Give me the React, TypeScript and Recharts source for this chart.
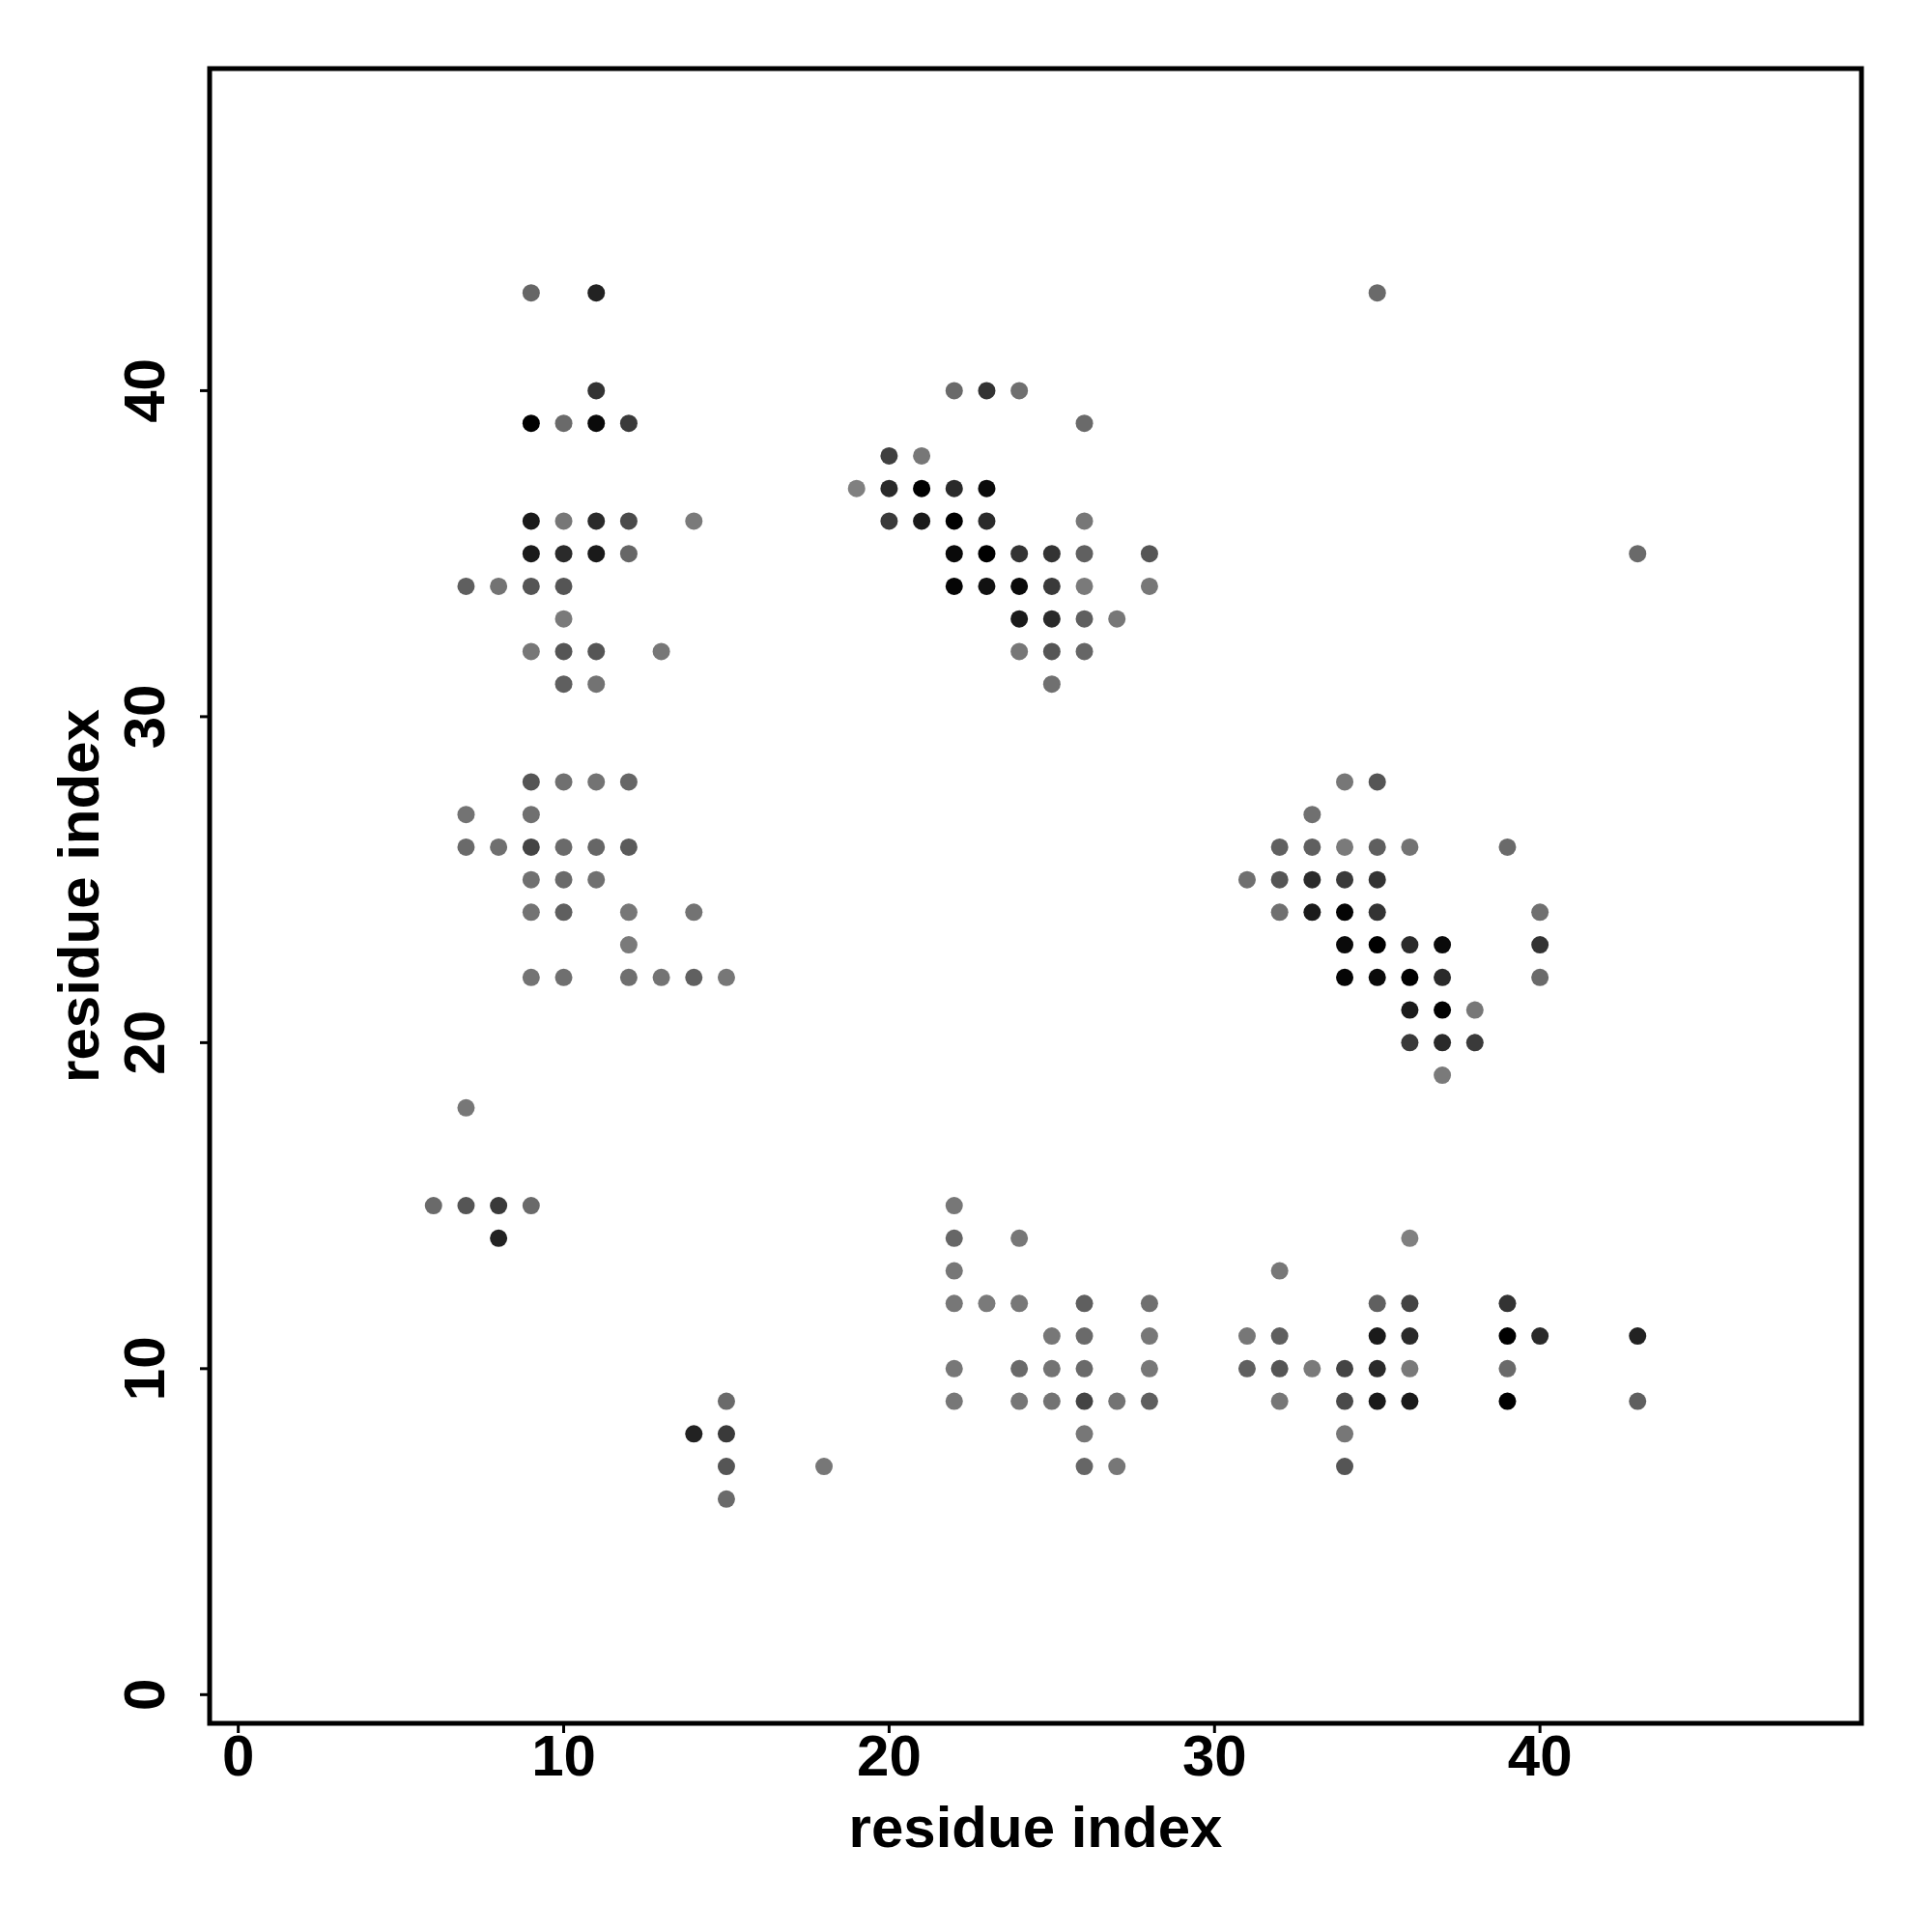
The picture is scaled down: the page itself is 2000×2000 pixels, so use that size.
import React from "react";
import {
  ScatterChart,
  Scatter,
  XAxis,
  YAxis,
  ReferenceArea,
} from "recharts";

// each contact: [residue i, residue j, grey level 0-255]
const topLeft = [
  [9, 43, 102], [11, 43, 34],
  [11, 40, 51],
  [9, 39, 0], [10, 39, 106], [11, 39, 10], [12, 39, 58],
  [9, 36, 26], [10, 36, 119], [11, 36, 42], [12, 36, 74], [14, 36, 122],
  [9, 35, 26], [10, 35, 42], [11, 35, 26], [12, 35, 102],
  [7, 34, 95], [8, 34, 115], [9, 34, 85], [10, 34, 85],
  [10, 33, 122],
  [9, 32, 119], [10, 32, 85], [11, 32, 85], [13, 32, 119],
  [10, 31, 95], [11, 31, 115],
];

const topMiddle = [
  [22, 40, 106], [23, 40, 51], [24, 40, 111],
  [26, 39, 106],
  [20, 38, 64], [21, 38, 119],
  [19, 37, 128], [20, 37, 42], [21, 37, 0], [22, 37, 42], [23, 37, 10],
  [20, 36, 58], [21, 36, 26], [22, 36, 0], [23, 36, 42], [26, 36, 119],
  [22, 35, 10], [23, 35, 0], [24, 35, 51], [25, 35, 51], [26, 35, 96], [28, 35, 85],
  [22, 34, 5], [23, 34, 17], [24, 34, 10], [25, 34, 58], [26, 34, 122], [28, 34, 119],
  [24, 33, 26], [25, 33, 42], [26, 33, 95], [27, 33, 119],
  [24, 32, 119], [25, 32, 85], [26, 32, 102],
  [25, 31, 112],
];

const outliers = [
  [35, 43, 106], [43, 35, 106],
];

const middleLeft = [
  [9, 28, 85], [10, 28, 112], [11, 28, 115], [12, 28, 102],
  [7, 27, 115], [9, 27, 112],
  [7, 26, 106], [8, 26, 111], [9, 26, 68], [10, 26, 106], [11, 26, 102], [12, 26, 90],
  [9, 25, 112], [10, 25, 106], [11, 25, 112],
  [9, 24, 115], [10, 24, 95], [12, 24, 119], [14, 24, 115],
  [12, 23, 122],
  [9, 22, 115], [10, 22, 111], [12, 22, 111], [13, 22, 115], [14, 22, 96], [15, 22, 119],
];

const middleRight = [
  [34, 28, 119], [35, 28, 85],
  [33, 27, 112],
  [32, 26, 96], [33, 26, 95], [34, 26, 122], [35, 26, 95], [36, 26, 115], [39, 26, 106],
  [31, 25, 111], [32, 25, 85], [33, 25, 42], [34, 25, 58], [35, 25, 51],
  [32, 24, 112], [33, 24, 26], [34, 24, 5], [35, 24, 51], [40, 24, 112],
  [34, 23, 10], [35, 23, 0], [36, 23, 42], [37, 23, 10], [40, 23, 51],
  [34, 22, 5], [35, 22, 10], [36, 22, 0], [37, 22, 42], [40, 22, 106],
  [36, 21, 26], [37, 21, 0], [38, 21, 119],
  [36, 20, 58], [37, 20, 42], [38, 20, 58],
  [37, 19, 122],
];

const lowerLeft = [
  [7, 18, 119],
  [6, 15, 106], [7, 15, 85], [8, 15, 58], [9, 15, 106],
  [8, 14, 34],
  [15, 9, 106],
  [14, 8, 34], [15, 8, 58],
  [15, 7, 85], [18, 7, 119],
  [15, 6, 106],
];

const lowerMiddle = [
  [22, 15, 119],
  [22, 14, 102], [24, 14, 119],
  [22, 13, 119],
  [22, 12, 119], [23, 12, 122], [24, 12, 119], [26, 12, 95], [28, 12, 111],
  [25, 11, 119], [26, 11, 106], [28, 11, 119],
  [22, 10, 119], [24, 10, 106], [25, 10, 115], [26, 10, 106], [28, 10, 119],
  [22, 9, 119], [24, 9, 119], [25, 9, 115], [26, 9, 68], [27, 9, 115], [28, 9, 95],
  [26, 8, 119],
  [26, 7, 102], [27, 7, 119],
];

const lowerRight = [
  [36, 14, 128],
  [32, 13, 119],
  [35, 12, 96], [36, 12, 68], [39, 12, 51],
  [31, 11, 119], [32, 11, 95], [35, 11, 26], [36, 11, 42], [39, 11, 0], [40, 11, 42], [43, 11, 34],
  [31, 10, 96], [32, 10, 85], [33, 10, 122], [34, 10, 68], [35, 10, 42], [36, 10, 122], [39, 10, 106],
  [32, 9, 119], [34, 9, 74], [35, 9, 26], [36, 9, 26], [39, 9, 0], [43, 9, 95],
  [34, 8, 119],
  [34, 7, 85],
];

const axisTicks = [0, 10, 20, 30, 40];
const axisLimits = [1, 48];

// R style 4% padding on both ends
const pad = (axisLimits[1] - axisLimits[0]) * 0.04;
const domain: [number, number] = [axisLimits[0] - pad, axisLimits[1] + pad];

const points = [
  ...topLeft,
  ...topMiddle,
  ...outliers,
  ...middleLeft,
  ...middleRight,
  ...lowerLeft,
  ...lowerMiddle,
  ...lowerRight,
].map(([x, y, g]) => ({ x, y, g }));

const FONT = "'Liberation Sans', Arial, Helvetica, sans-serif";

function Dot(props: any) {
  const g = props.payload?.g ?? props.g ?? 0;
  return <circle cx={props.cx} cy={props.cy} r={9} fill={`rgb(${g},${g},${g})`} />;
}

function XTick(props: any) {
  const { x, y, payload } = props;
  return (
    <text x={x} y={y + 44} textAnchor="middle" fontFamily={FONT} fontWeight="bold" fontSize={60} fill="#000">
      {payload.value}
    </text>
  );
}

function YTick(props: any) {
  const { x, y, payload } = props;
  const bx = x - 37;
  return (
    <text
      x={bx}
      y={y}
      transform={`rotate(-90, ${bx}, ${y})`}
      textAnchor="middle"
      fontFamily={FONT}
      fontWeight="bold"
      fontSize={60}
      fill="#000"
    >
      {payload.value}
    </text>
  );
}

function XTitle(props: any) {
  const vb = props.viewBox || {};
  return (
    <text x={vb.x + vb.width / 2} y={vb.y + 128} textAnchor="middle" fontFamily={FONT} fontWeight="bold" fontSize={60} fill="#000">
      residue index
    </text>
  );
}

function YTitle(props: any) {
  const vb = props.viewBox || {};
  const cx = 102;
  const cy = vb.y + vb.height / 2;
  return (
    <text x={cx} y={cy} transform={`rotate(-90, ${cx}, ${cy})`} textAnchor="middle" fontFamily={FONT} fontWeight="bold" fontSize={60} fill="#000">
      residue index
    </text>
  );
}

export default function App() {
  return (
    <div style={{ position: "absolute", left: 0, top: 0, background: "#fff" }}>
      <ScatterChart width={2000} height={2000} margin={{ top: 71, right: 73, left: 0, bottom: 0 }}>
        <XAxis
          type="number"
          dataKey="x"
          domain={domain}
          ticks={axisTicks}
          interval={0}
          allowDataOverflow
          height={216}
          axisLine={false}
          tickLine={{ stroke: "#000", strokeWidth: 3 }}
          tickSize={10}
          tickMargin={0}
          tick={<XTick />}
          label={<XTitle />}
        />
        <YAxis
          type="number"
          dataKey="y"
          domain={domain}
          ticks={axisTicks}
          interval={0}
          allowDataOverflow
          width={217}
          axisLine={false}
          tickLine={{ stroke: "#000", strokeWidth: 3 }}
          tickSize={10}
          tickMargin={0}
          tick={<YTick />}
          label={<YTitle />}
        />
        <ReferenceArea
          x1={domain[0]}
          x2={domain[1]}
          y1={domain[0]}
          y2={domain[1]}
          fill="none"
          stroke="#000"
          strokeWidth={5}
          ifOverflow="visible"
        />
        <Scatter data={points} shape={<Dot />} isAnimationActive={false} />
      </ScatterChart>
    </div>
  );
}
